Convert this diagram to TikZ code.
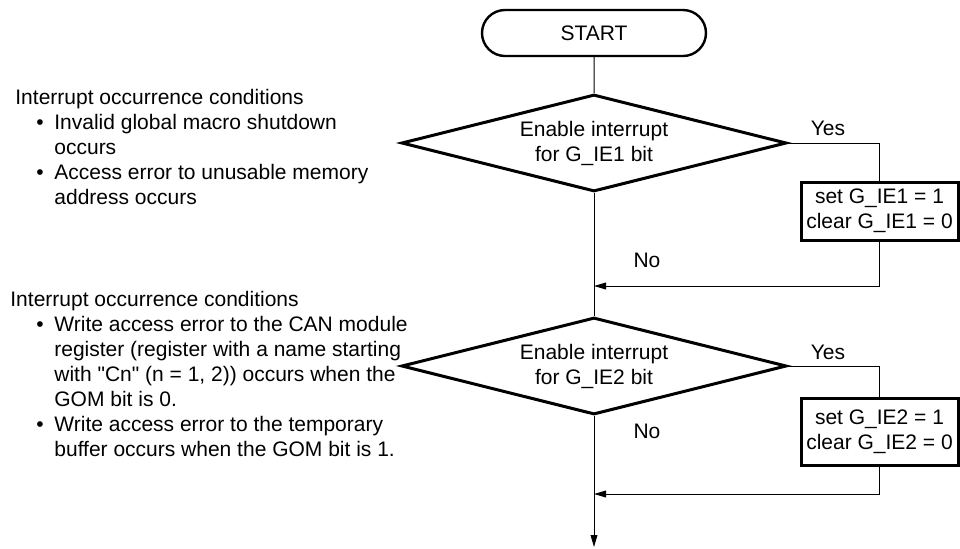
\documentclass[tikz,border=0pt]{standalone}
\usepackage{fontspec}
\setmainfont{Liberation Sans}
\usetikzlibrary{positioning,arrows.meta,shapes.geometric,shapes.misc}

\newcommand\condbul{\hspace*{13pt}\makebox[9pt][l]{\textbullet}}
\newcommand\condcont{\hspace*{22pt}}

\begin{document}
\begin{tikzpicture}[
  x=0.5pt,y=-0.5pt,
  every node/.style={font=\fontsize{10.5}{12.5}\selectfont,align=center,inner sep=0pt},
  terminal/.style={draw,rounded rectangle,line width=1.2pt,minimum width=112pt,minimum height=23pt},
  decision/.style={draw,diamond,aspect=4,line width=1.5pt,minimum width=192.5pt,minimum height=48.5pt},
  process/.style={draw,rectangle,line width=1.5pt,minimum width=78.5pt},
  flow/.style={line width=0.5pt},
  arrow/.style={flow,-{Triangle[length=6pt,width=3.4pt]}}
]
  \useasboundingbox (0,0) rectangle (960,548);

  % 発生条件
  \node[anchor=north west,align=left] (cond1) at (10,89)
    {\hspace*{2.5pt}Interrupt occurrence conditions\\
     \condbul Invalid global macro shutdown\\
     \condcont occurs\\
     \condbul Access error to unusable memory\\
     \condcont address occurs};
  \node[anchor=north west,align=left] (cond2) at (10,291)
    {Interrupt occurrence conditions\\
     \condbul Write access error to the CAN module\\
     \condcont register (register with a name starting\\
     \condcont with \textquotedbl Cn\textquotedbl{} (n = 1, 2)) occurs when the\\
     \condcont GOM bit is 0.\\
     \condbul Write access error to the temporary\\
     \condcont buffer occurs when the GOM bit is 1.};

  % フロー
  \node[terminal] (start) at (594,33) {START};
  \node[decision] (d1) at (594,143) {Enable interrupt\\for G\_IE1 bit};
  \node[process,minimum height=29pt] (b1) at (879.5,211)
    {set G\_IE1 = 1\\clear G\_IE1 = 0};
  \node[decision] (d2) at (594,366) {Enable interrupt\\for G\_IE2 bit};
  \node[process,minimum height=33.5pt] (b2) at (879.5,431.5)
    {set G\_IE2 = 1\\clear G\_IE2 = 0};

  % 分岐ラベル
  \node (yes1) at (828,128) {Yes};
  \node (no1) at (647,260) {No};
  \node (yes2) at (828,352) {Yes};
  \node (no2) at (647,431) {No};

  \coordinate (j1) at (594,286);
  \coordinate (j2) at (594,494);
  \coordinate (stop) at (594,547);

  % 線
  \draw[flow] (start) -- (d1);
  \draw[flow] (d1.east) -| (b1.north);
  \draw[arrow] (b1.south) |- (j1);
  \draw[flow] (d1) -- (d2);
  \draw[flow] (d2.east) -| (b2.north);
  \draw[arrow] (b2.south) |- (j2);
  \draw[arrow] (d2) -- (stop);
\end{tikzpicture}
\end{document}
